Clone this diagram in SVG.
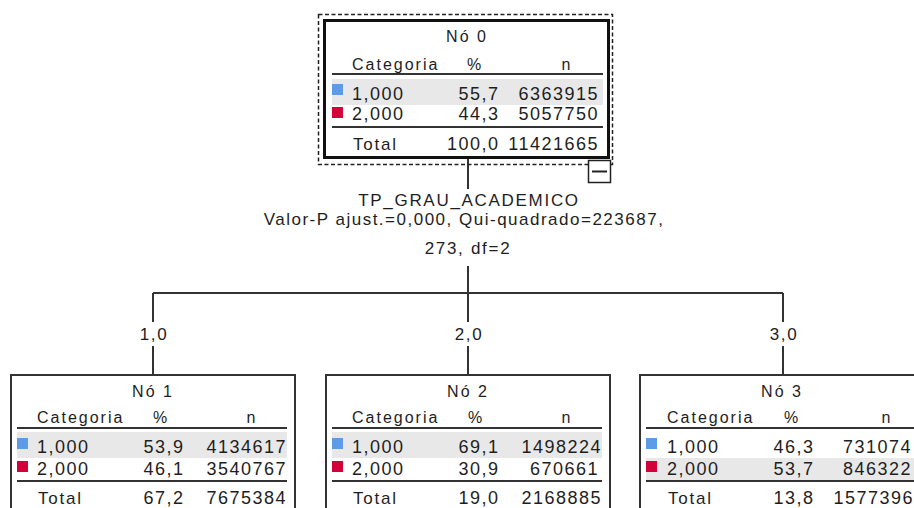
<svg xmlns="http://www.w3.org/2000/svg" width="914" height="508" viewBox="0 0 914 508">
<style>
text{font-family:"Liberation Sans",Arial,sans-serif;fill:#1e1e1e}
.title{font-size:16px;letter-spacing:2px;text-anchor:middle}
.hdr{font-size:16px;letter-spacing:2px}
.val{font-size:18px;letter-spacing:1.5px}
.tot{font-size:17px;letter-spacing:1.8px}
.lbl{font-size:17px;letter-spacing:1.7px;text-anchor:middle}
.mid{text-anchor:middle}
.end{text-anchor:end}
.sep{stroke:#333;stroke-width:2}
.shade{fill:#e8e8e8}
.blue{fill:#5b9be8}
.red{fill:#d4003a}
.box{fill:#fff;stroke:#333;stroke-width:2}
.conn{fill:none;stroke:#333;stroke-width:2}
</style>
<rect width="914" height="508" fill="#fff"/>

<g id="connectors">
<path class="conn" d="M468,159V189M468,266V293M153,293H783M153,293V322M153,346V374M468,293V322M468,346V374M783,293V322M783,346V374"/>
<text class="lbl" x="469" y="206">TP_GRAU_ACADEMICO</text>
<text class="lbl" x="464" y="225" style="letter-spacing:1.5px">Valor-P ajust.=0,000, Qui-quadrado=223687,</text>
<text class="lbl" x="468" y="254">273, df=2</text>
<text class="lbl" x="154" y="340">1,0</text>
<text class="lbl" x="469" y="340">2,0</text>
<text class="lbl" x="784" y="340">3,0</text>
</g>

<g id="node0">
<rect x="318.5" y="14.5" width="294" height="150" fill="none" stroke="#222" stroke-width="1.5" stroke-dasharray="4 2.5"/>
<rect x="324.5" y="20.5" width="284" height="137" fill="#fff" stroke="#111" stroke-width="3"/>
<g transform="translate(324,20)">
<text class="title" x="143" y="22">Nó 0</text>
<text class="hdr" x="28" y="50">Categoria</text>
<text class="hdr mid" x="151" y="50">%</text>
<text class="hdr mid" x="243" y="50">n</text>
<line class="sep" x1="8" y1="54" x2="279" y2="54"/>
<rect class="shade" x="8" y="59" width="271" height="26"/>
<rect class="blue" x="8" y="64" width="11" height="11"/>
<text class="val" x="28" y="80">1,000</text>
<text class="val end" x="175.5" y="80">55,7</text>
<text class="val end" x="275" y="80">6363915</text>
<rect class="red" x="8" y="87" width="11" height="11"/>
<text class="val" x="28" y="100">2,000</text>
<text class="val end" x="175.5" y="100">44,3</text>
<text class="val end" x="275" y="100">5057750</text>
<line class="sep" x1="8" y1="107" x2="279" y2="107"/>
<text class="tot" x="29" y="130">Total</text>
<text class="val end" x="175.5" y="130">100,0</text>
<text class="val end" x="275" y="130">11421665</text>
</g>
<rect x="588.5" y="160.5" width="22" height="22" fill="#fff" stroke="#222" stroke-width="1.5"/>
<line x1="592" y1="171.5" x2="607" y2="171.5" stroke="#222" stroke-width="2"/>
</g>

<g id="node1" transform="translate(10,374)">
<rect class="box" x="1" y="1" width="284" height="200"/>
<text class="title" x="143" y="23">Nó 1</text>
<text class="hdr" x="27" y="49">Categoria</text>
<text class="hdr mid" x="151" y="49">%</text>
<text class="hdr mid" x="242" y="49">n</text>
<line class="sep" x1="7" y1="54" x2="277" y2="54"/>
<rect class="shade" x="7" y="58" width="270" height="26"/>
<rect class="blue" x="7" y="64" width="11" height="11"/>
<text class="val" x="27" y="79">1,000</text>
<text class="val end" x="174.5" y="79">53,9</text>
<text class="val end" x="277" y="79">4134617</text>
<rect class="red" x="7" y="87" width="11" height="11"/>
<text class="val" x="27" y="101">2,000</text>
<text class="val end" x="174.5" y="101">46,1</text>
<text class="val end" x="277" y="101">3540767</text>
<line class="sep" x1="7" y1="107" x2="277" y2="107"/>
<text class="tot" x="28" y="130">Total</text>
<text class="val end" x="174.5" y="130">67,2</text>
<text class="val end" x="277" y="130">7675384</text>
</g>

<g id="node2" transform="translate(325,374)">
<rect class="box" x="1" y="1" width="284" height="200"/>
<text class="title" x="143" y="23">Nó 2</text>
<text class="hdr" x="27" y="49">Categoria</text>
<text class="hdr mid" x="151" y="49">%</text>
<text class="hdr mid" x="242" y="49">n</text>
<line class="sep" x1="7" y1="54" x2="277" y2="54"/>
<rect class="shade" x="7" y="58" width="270" height="26"/>
<rect class="blue" x="7" y="64" width="11" height="11"/>
<text class="val" x="27" y="79">1,000</text>
<text class="val end" x="174.5" y="79">69,1</text>
<text class="val end" x="277" y="79">1498224</text>
<rect class="red" x="7" y="87" width="11" height="11"/>
<text class="val" x="27" y="101">2,000</text>
<text class="val end" x="174.5" y="101">30,9</text>
<text class="val end" x="274" y="101">670661</text>
<line class="sep" x1="7" y1="107" x2="277" y2="107"/>
<text class="tot" x="28" y="130">Total</text>
<text class="val end" x="174.5" y="130">19,0</text>
<text class="val end" x="277" y="130">2168885</text>
</g>

<g id="node3" transform="translate(639,374)">
<rect class="box" x="1" y="1" width="284" height="200"/>
<text class="title" x="143" y="23">Nó 3</text>
<text class="hdr" x="28" y="49">Categoria</text>
<text class="hdr mid" x="153" y="49">%</text>
<text class="hdr mid" x="248" y="49">n</text>
<line class="sep" x1="7" y1="54" x2="277" y2="54"/>
<rect class="shade" x="7" y="84" width="270" height="22"/>
<rect class="blue" x="7" y="64" width="11" height="11"/>
<text class="val" x="28" y="79">1,000</text>
<text class="val end" x="175.5" y="79">46,3</text>
<text class="val end" x="273" y="79">731074</text>
<rect class="red" x="7" y="87" width="11" height="11"/>
<text class="val" x="28" y="101">2,000</text>
<text class="val end" x="175.5" y="101">53,7</text>
<text class="val end" x="273" y="101">846322</text>
<line class="sep" x1="7" y1="107" x2="277" y2="107"/>
<text class="tot" x="29" y="130">Total</text>
<text class="val end" x="175.5" y="130">13,8</text>
<text class="val end" x="275" y="130">1577396</text>
</g>
</svg>
